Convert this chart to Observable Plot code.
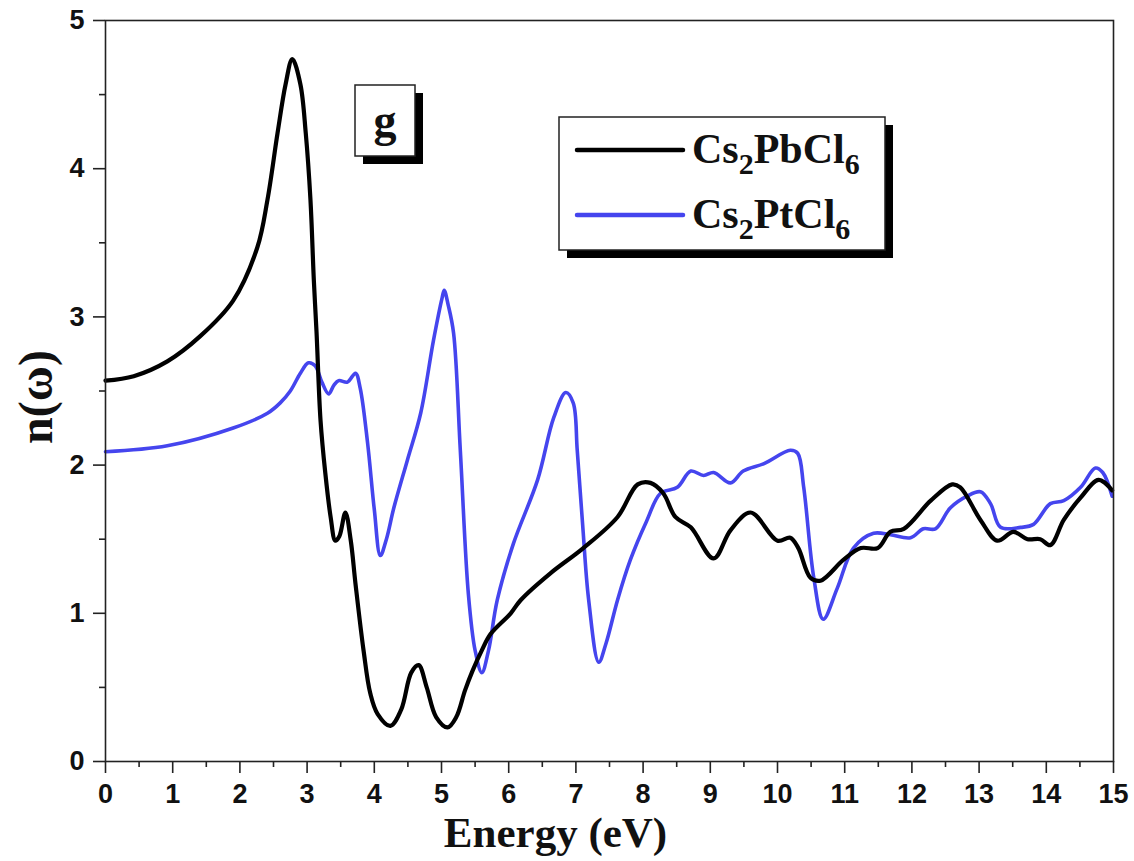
<!DOCTYPE html>
<html>
<head>
<meta charset="utf-8">
<script src="https://cdn.jsdelivr.net/npm/d3@7"></script>
<script src="https://cdn.jsdelivr.net/npm/@observablehq/plot@0.6"></script>
<style>
  body { margin: 0; background: #fff; }
  #chart svg { display: block; }
</style>
</head>
<body>
<div id="chart"></div>
<script>
// Refractive index n(ω) versus photon energy for two halide double perovskites.
const pbEnergy = [0, 0.42, 0.92, 1.41, 1.9, 2.26, 2.41, 2.56, 2.68, 2.78, 2.9, 2.98, 3.05, 3.1, 3.14, 3.2, 3.27, 3.35, 3.42, 3.48, 3.57, 3.65, 3.72, 3.84, 3.94, 4.05, 4.24, 4.4, 4.55, 4.66, 4.78, 4.92, 5.09, 5.22, 5.35, 5.46, 5.6, 5.73, 6.03, 6.18, 6.62, 7.11, 7.62, 7.92, 8.11, 8.3, 8.48, 8.71, 9.05, 9.3, 9.6, 10.0, 10.19, 10.31, 10.49, 10.64, 10.98, 11.24, 11.49, 11.68, 11.88, 12.28, 12.6, 12.72, 13.02, 13.27, 13.51, 13.72, 13.91, 14.06, 14.26, 14.51, 14.78, 14.98];
const pbIndex  = [2.57, 2.6, 2.7, 2.87, 3.11, 3.47, 3.79, 4.24, 4.57, 4.74, 4.57, 4.24, 3.79, 3.25, 2.9, 2.3, 1.95, 1.65, 1.49, 1.52, 1.68, 1.49, 1.2, 0.75, 0.46, 0.32, 0.24, 0.35, 0.6, 0.65, 0.5, 0.3, 0.23, 0.3, 0.48, 0.61, 0.75, 0.86, 1.0, 1.09, 1.27, 1.44, 1.65, 1.87, 1.88, 1.81, 1.65, 1.58, 1.37, 1.56, 1.68, 1.49, 1.51, 1.44, 1.24, 1.22, 1.36, 1.44, 1.44, 1.55, 1.57, 1.76, 1.87, 1.85, 1.63, 1.49, 1.55, 1.5, 1.5, 1.46, 1.63, 1.78, 1.9, 1.83];

const ptEnergy = [0, 0.92, 1.9, 2.41, 2.6, 2.75, 2.9, 3.02, 3.12, 3.22, 3.32, 3.4, 3.47, 3.6, 3.72, 3.79, 3.9, 4.0, 4.09, 4.18, 4.29, 4.49, 4.69, 4.88, 5.01, 5.04, 5.1, 5.18, 5.28, 5.4, 5.5, 5.6, 5.7, 5.83, 6.07, 6.43, 6.67, 6.85, 6.96, 7.02, 7.1, 7.19, 7.34, 7.45, 7.62, 7.81, 8.05, 8.26, 8.51, 8.71, 8.9, 9.05, 9.3, 9.49, 9.8, 10.19, 10.3, 10.39, 10.54, 10.68, 10.89, 11.13, 11.43, 11.68, 11.98, 12.17, 12.35, 12.57, 12.82, 13.02, 13.17, 13.32, 13.62, 13.81, 14.06, 14.26, 14.51, 14.73, 14.84, 14.98];
const ptIndex  = [2.09, 2.13, 2.25, 2.35, 2.42, 2.5, 2.62, 2.69, 2.67, 2.56, 2.48, 2.54, 2.57, 2.56, 2.62, 2.52, 2.15, 1.7, 1.39, 1.5, 1.71, 2.03, 2.35, 2.84, 3.13, 3.18, 3.08, 2.89, 2.1, 1.13, 0.75, 0.6, 0.75, 1.09, 1.47, 1.9, 2.32, 2.49, 2.42, 2.1, 1.6, 1.09, 0.67, 0.8, 1.09, 1.36, 1.62, 1.81, 1.85, 1.96, 1.93, 1.95, 1.88, 1.96, 2.01, 2.1, 2.08, 1.85, 1.24, 0.96, 1.17, 1.44, 1.54, 1.53, 1.51, 1.57, 1.57, 1.71, 1.79, 1.82, 1.74, 1.58, 1.58, 1.6, 1.74, 1.76, 1.85, 1.98, 1.95, 1.79];

const seriesNames = ["Cs₂PbCl₆", "Cs₂PtCl₆"];
const seriesColors = ["#000000", "#4545ee"];

const xMajor = d3.range(0, 16, 1);
const xMinor = d3.range(0.5, 15, 1);
const yMajor = [0, 1, 2, 3, 4, 5];
const yMinor = [0.5, 1.5, 2.5, 3.5, 4.5];

const pbRows = pbEnergy.map((e, i) => ({e, n: pbIndex[i]}));
const ptRows = ptEnergy.map((e, i) => ({e, n: ptIndex[i]}));

const sans = "'Liberation Sans', Arial, sans-serif";
const serif = "'Liberation Serif', 'Times New Roman', serif";
const axisColor = "#222";

const plot = Plot.plot({
  width: 1134,
  height: 861,
  marginLeft: 105,
  marginRight: 21,
  marginTop: 20,
  marginBottom: 100,
  style: {background: "white", fontFamily: sans, color: "#111"},
  x: {domain: [0, 15]},
  y: {domain: [0, 5]},
  marks: [
    Plot.axisX(xMajor, {tickSize: 12, tickPadding: 10, fontSize: 27, fontWeight: "bold", tickFormat: "d", stroke: axisColor, strokeWidth: 1.6, label: null}),
    Plot.axisX(xMinor, {tickSize: 6, text: null, stroke: axisColor, strokeWidth: 1.6, label: null}),
    Plot.axisY(yMajor, {tickSize: 12, tickPadding: 9, fontSize: 27, fontWeight: "bold", tickFormat: "d", stroke: axisColor, strokeWidth: 1.6, label: null}),
    Plot.axisY(yMinor, {tickSize: 6, text: null, stroke: axisColor, strokeWidth: 1.6, label: null}),
    Plot.line(ptRows, {x: "e", y: "n", stroke: seriesColors[1], strokeWidth: 3.6, curve: "catmull-rom"}),
    Plot.line(pbRows, {x: "e", y: "n", stroke: seriesColors[0], strokeWidth: 4.2, curve: "catmull-rom"}),
    Plot.frame({stroke: axisColor, strokeWidth: 1.6}),
    Plot.text(["Energy (eV)"], {text: d => d, frameAnchor: "bottom", dx: -54, dy: 72, lineAnchor: "middle",
      fontFamily: serif, fontWeight: "bold", fontSize: 43, fill: "#111"})
  ]
});

document.getElementById("chart").append(plot);

// Overlays: y-axis title, panel tag and legend box with drop shadows.
const svg = d3.select(plot);

svg.append("text")
  .attr("transform", "translate(52,397) rotate(-90)")
  .attr("text-anchor", "middle")
  .attr("font-family", serif)
  .attr("font-weight", "bold")
  .attr("font-size", 48)
  .attr("fill", "#111")
  .text("n(ω)");

function shadowBox(x, y, w, h, off) {
  svg.append("rect").attr("x", x + off).attr("y", y + off).attr("width", w).attr("height", h).attr("fill", "#000");
  svg.append("rect").attr("x", x).attr("y", y).attr("width", w).attr("height", h)
    .attr("fill", "#fff").attr("stroke", "#222").attr("stroke-width", 1.5);
}

// panel tag
shadowBox(355, 85, 60, 71, 8);
svg.append("text")
  .attr("x", 385).attr("y", 136)
  .attr("text-anchor", "middle")
  .attr("font-family", serif).attr("font-weight", "bold").attr("font-size", 46)
  .attr("fill", "#111")
  .text("g");

// legend
shadowBox(559, 117, 326, 133, 8);
const legendParts = [["Cs", "2", "PbCl", "6"], ["Cs", "2", "PtCl", "6"]];
legendParts.forEach((parts, i) => {
  const yLine = 150 + i * 65;
  svg.append("line")
    .attr("x1", 577).attr("x2", 683).attr("y1", yLine).attr("y2", yLine)
    .attr("stroke", seriesColors[i]).attr("stroke-width", 4.5).attr("stroke-linecap", "round");
  const t = svg.append("text")
    .attr("x", 692).attr("y", yLine + 13)
    .attr("text-anchor", "start")
    .attr("font-family", serif).attr("font-weight", "bold").attr("font-size", 42)
    .attr("fill", "#111");
  t.append("tspan").text(parts[0]);
  t.append("tspan").attr("font-size", 30).attr("dy", 11).text(parts[1]);
  t.append("tspan").attr("dy", -11).text(parts[2]);
  t.append("tspan").attr("font-size", 30).attr("dy", 11).text(parts[3]);
});
</script>
</body>
</html>
